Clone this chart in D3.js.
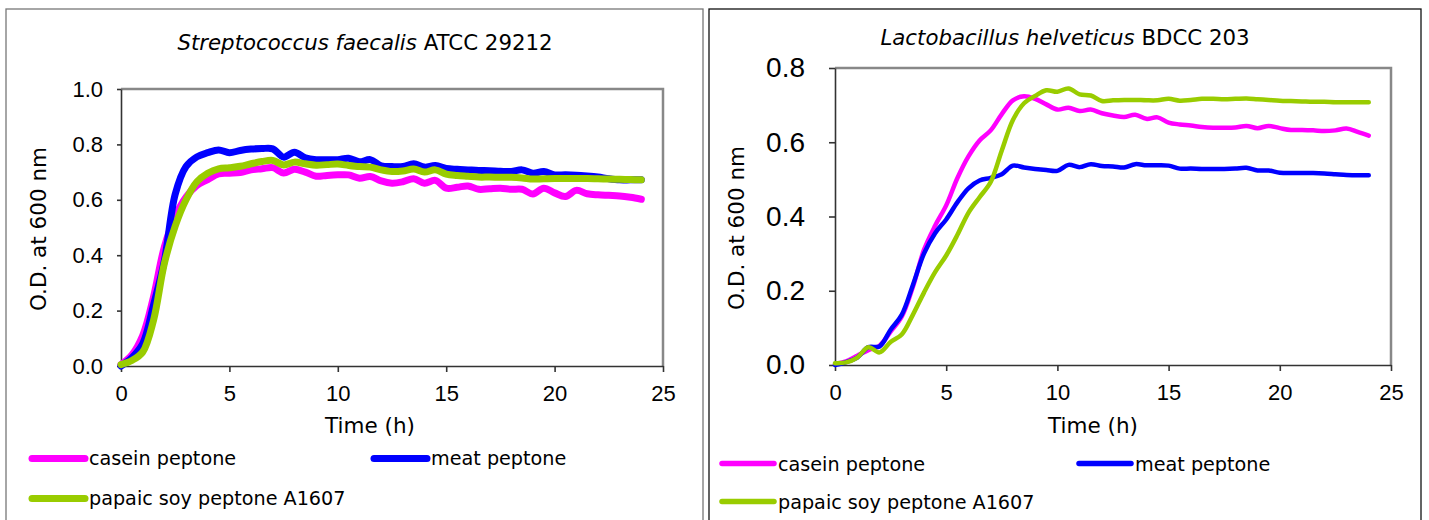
<!DOCTYPE html>
<html>
<head>
<meta charset="utf-8">
<script src="https://cdn.jsdelivr.net/npm/d3@7"></script>
<style>
  body { margin: 0; background: #fff; }
  svg { display: block; font-family: "DejaVu Sans", Verdana, sans-serif; }
</style>
</head>
<body>
<div id="chart-area"></div>
<script>
/* Data (O.D. at 600 nm every half hour) */
var hours = [0, 0.5, 1, 1.5, 2, 2.5, 3, 3.5, 4, 4.5, 5, 5.5, 6, 6.5, 7, 7.5, 8, 8.5, 9, 9.5,
  10, 10.5, 11, 11.5, 12, 12.5, 13, 13.5, 14, 14.5, 15, 15.5, 16, 16.5, 17, 17.5, 18, 18.5,
  19, 19.5, 20, 20.5, 21, 21.5, 22, 22.5, 23, 23.5, 24];

// Streptococcus faecalis ATCC 29212
var caseinStrep = [0.005, 0.04, 0.11, 0.25, 0.43, 0.54, 0.61, 0.652, 0.673, 0.694, 0.696, 0.698,
  0.708, 0.712, 0.716, 0.697, 0.71, 0.70, 0.685, 0.688, 0.69, 0.69, 0.678, 0.684, 0.668, 0.66,
  0.665, 0.676, 0.66, 0.67, 0.642, 0.645, 0.65, 0.638, 0.64, 0.642, 0.638, 0.638, 0.621, 0.642,
  0.625, 0.612, 0.634, 0.622, 0.618, 0.616, 0.614, 0.609, 0.602];
var meatStrep = [0.0, 0.03, 0.08, 0.22, 0.38, 0.62, 0.72, 0.755, 0.77, 0.78, 0.77, 0.778,
  0.783, 0.785, 0.784, 0.754, 0.772, 0.752, 0.745, 0.745, 0.745, 0.75, 0.737, 0.745, 0.723, 0.72,
  0.72, 0.73, 0.718, 0.724, 0.713, 0.71, 0.708, 0.706, 0.705, 0.703, 0.702, 0.708, 0.696, 0.702,
  0.69, 0.69, 0.689, 0.686, 0.682, 0.676, 0.672, 0.672, 0.672];
var soyStrep = [0.005, 0.02, 0.05, 0.165, 0.37, 0.505, 0.60, 0.665, 0.696, 0.712, 0.716, 0.721,
  0.73, 0.738, 0.742, 0.726, 0.736, 0.73, 0.725, 0.727, 0.729, 0.724, 0.72, 0.718, 0.708, 0.702,
  0.704, 0.711, 0.70, 0.708, 0.693, 0.688, 0.685, 0.682, 0.682, 0.681, 0.681, 0.679, 0.675, 0.676,
  0.677, 0.677, 0.677, 0.677, 0.676, 0.675, 0.674, 0.673, 0.672];

// Lactobacillus helveticus BDCC 203
var caseinLacto = [0.003, 0.01, 0.025, 0.04, 0.052, 0.09, 0.13, 0.21, 0.31, 0.375, 0.43, 0.503,
  0.562, 0.605, 0.632, 0.676, 0.713, 0.724, 0.717, 0.702, 0.688, 0.693, 0.684, 0.688, 0.678, 0.672,
  0.668, 0.674, 0.663, 0.667, 0.653, 0.648, 0.645, 0.641, 0.639, 0.639, 0.64, 0.644, 0.638, 0.644,
  0.638, 0.633, 0.633, 0.632, 0.63, 0.632, 0.637, 0.628, 0.618];
var meatLacto = [0.0, 0.008, 0.02, 0.048, 0.05, 0.095, 0.135, 0.215, 0.30, 0.355, 0.392, 0.438,
  0.476, 0.497, 0.504, 0.514, 0.537, 0.532, 0.528, 0.525, 0.523, 0.539, 0.533, 0.541, 0.536, 0.535,
  0.532, 0.541, 0.538, 0.538, 0.537, 0.529, 0.529, 0.528, 0.528, 0.528, 0.529, 0.531, 0.524, 0.524,
  0.518, 0.517, 0.517, 0.517, 0.516, 0.514, 0.512, 0.511, 0.511];
var soyLacto = [0.005, 0.007, 0.02, 0.048, 0.034, 0.062, 0.082, 0.135, 0.195, 0.25, 0.295, 0.35,
  0.41, 0.452, 0.493, 0.578, 0.66, 0.705, 0.725, 0.74, 0.736, 0.745, 0.729, 0.726, 0.711, 0.713,
  0.714, 0.714, 0.713, 0.713, 0.717, 0.712, 0.714, 0.717, 0.717, 0.716, 0.717, 0.718, 0.716, 0.714,
  0.712, 0.711, 0.71, 0.709, 0.709, 0.708, 0.708, 0.708, 0.708];

var seriesNames = ["casein peptone", "meat peptone", "papaic soy peptone A1607"];
var seriesColors = ["#ff00ff", "#0000ff", "#99cc00"];
var xTicks = [0, 5, 10, 15, 20, 25];
var yTicksStrep = [0, 0.2, 0.4, 0.6, 0.8, 1.0];
var yTicksLacto = [0, 0.2, 0.4, 0.6, 0.8];


/* Canvas */
var svg = d3.select("#chart-area").append("svg")
  .attr("width", 1429)
  .attr("height", 520);

svg.append("rect")
  .attr("width", 1429).attr("height", 520)
  .attr("fill", "#fff");

function drawPanel(p) {
  var g = svg.append("g");

  // outer chart border (runs past the bottom of the picture)
  g.append("rect")
    .attr("x", p.box[0]).attr("y", p.box[1])
    .attr("width", p.box[2]).attr("height", p.box[3])
    .attr("fill", "#fff")
    .attr("stroke", p.boxColor)
    .attr("stroke-width", 1.3);

  // title: species name in italics
  var title = g.append("text")
    .attr("x", p.titleX).attr("y", p.titleY)
    .attr("text-anchor", "middle")
    .attr("font-size", "21.3px");
  title.append("tspan").attr("font-style", "italic").text(p.species);
  title.append("tspan").text(" " + p.strain);

  var x = d3.scaleLinear().domain([0, 25]).range([p.left, p.right]);
  var y = d3.scaleLinear().domain([0, p.yMax]).range([p.bottom, p.top]);

  // grey frame top and right
  g.append("path")
    .attr("d", "M" + p.left + "," + p.top + "H" + p.right + "V" + p.bottom)
    .attr("fill", "none")
    .attr("stroke", "#888")
    .attr("stroke-width", 2.5);

  // X Axis
  var xAxisCall = d3.axisBottom(x)
    .tickValues(xTicks)
    .tickSize(6)
    .tickSizeOuter(0)
    .tickPadding(p.xPad)
    .tickFormat(d3.format("d"));
  var xAxis = g.append("g")
    .attr("transform", "translate(0," + p.bottom + ")")
    .call(xAxisCall);
  xAxis.selectAll("text").attr("font-size", "22px").attr("fill", "#000").attr("font-family", null);

  // Y Axis
  var yAxisCall = d3.axisLeft(y)
    .tickValues(p.yTicks)
    .tickSize(p.yTickSize)
    .tickSizeOuter(0)
    .tickPadding(p.yPad)
    .tickFormat(d3.format(".1f"));
  var yAxis = g.append("g")
    .attr("transform", "translate(" + p.left + ",0)")
    .call(yAxisCall);
  yAxis.selectAll("text").attr("font-size", p.yFont).attr("fill", "#000").attr("font-family", null);

  g.selectAll(".domain, .tick line")
    .attr("stroke", "#333")
    .attr("stroke-width", 1.6);

  // Labels
  g.append("text")
    .attr("x", p.xLabelX).attr("y", p.xLabelY)
    .attr("text-anchor", "middle")
    .attr("font-size", "21.5px")
    .text("Time (h)");

  g.append("text")
    .attr("transform", "translate(" + p.yLabelX + "," + p.yLabelY + ") rotate(-90)")
    .attr("text-anchor", "middle")
    .attr("dy", "0.36em")
    .attr("font-size", "21.5px")
    .text("O.D. at 600 nm");

  // growth curves
  var line = d3.line()
    .x(function(d, i) { return x(hours[i]); })
    .y(function(d) { return y(d); })
    .curve(d3.curveCatmullRom);

  p.series.forEach(function(values, i) {
    g.append("path")
      .datum(values)
      .attr("d", line)
      .attr("fill", "none")
      .attr("stroke", seriesColors[i])
      .attr("stroke-width", p.lineWidth)
      .attr("stroke-linecap", "round")
      .attr("stroke-linejoin", "round");
  });

  // Legend
  seriesNames.forEach(function(name, i) {
    var lx = p.legendX[i % 2];
    var ly = p.legendY[Math.floor(i / 2)];
    var row = g.append("g").attr("transform", "translate(" + lx + "," + ly + ")");
    row.append("line")
      .attr("x1", 0).attr("x2", p.legendLen)
      .attr("stroke", seriesColors[i])
      .attr("stroke-width", p.legendWidth)
      .attr("stroke-linecap", "round");
    row.append("text")
      .attr("x", p.legendLen + 4)
      .attr("y", p.legendDy)
      .attr("font-size", "19.2px")
      .text(name);
  });
}

drawPanel({
  box: [6, 9, 697, 530], boxColor: "#777",
  species: "Streptococcus faecalis", strain: "ATCC 29212",
  titleX: 365, titleY: 50,
  left: 121, right: 663, top: 89, bottom: 366,
  yMax: 1.0, yTicks: yTicksStrep, yTickSize: 4, yPad: 14, yFont: "22px",
  xPad: 13,
  xLabelX: 370, xLabelY: 433,
  yLabelX: 38, yLabelY: 229,
  series: [caseinStrep, meatStrep, soyStrep], lineWidth: 7,
  legendX: [32, 374], legendY: [458.5, 498.5], legendLen: 53, legendWidth: 7, legendDy: 6.5
});

drawPanel({
  box: [709, 9, 712, 530], boxColor: "#111",
  species: "Lactobacillus helveticus", strain: "BDCC 203",
  titleX: 1065, titleY: 45,
  left: 835, right: 1391, top: 68, bottom: 365,
  yMax: 0.8, yTicks: yTicksLacto, yTickSize: 6, yPad: 24, yFont: "28px",
  xPad: 13,
  xLabelX: 1093, xLabelY: 433,
  yLabelX: 736, yLabelY: 228,
  series: [caseinLacto, meatLacto, soyLacto], lineWidth: 4.5,
  legendX: [722, 1079], legendY: [463.5, 501.5], legendLen: 52, legendWidth: 5.5, legendDy: 7.5
});
</script>
</body>
</html>
